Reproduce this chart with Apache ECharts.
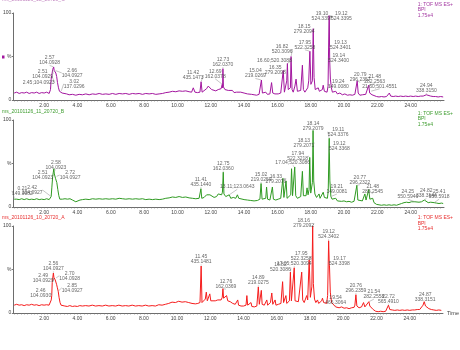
<!DOCTYPE html>
<html><head><meta charset="utf-8">
<script src="https://cdn.jsdelivr.net/npm/echarts@6/dist/echarts.min.js"></script>
<style>html,body{margin:0;padding:0;background:#fff}#c{width:460px;height:350px}</style>
</head><body><div id="c"></div>
<script>
// Retention-time tick labels (minutes)
const timeTicks = [2, 4, 6, 8, 10, 12, 14, 16, 18, 20, 22, 24];

// Sample names
const titleC = 'ms_20101126_12_20720_C';
const titleB = 'ms_20101126_11_20720_B';
const titleA = 'ms_20101126_10_20720_A';
const headerText = '1: TOF MS ES+\nBPI\n1.75e4';

// Base peak intensity traces, [time (min), relative intensity %]
const bpiC = [[0.20,8],[0.35,9],[0.5,7.5],[0.65,8.5],[0.8,8],[0.95,9],[1.1,7.5],[1.25,8.5],[1.4,8],[1.55,9],[1.7,7.5],[1.85,8.5],[2.0,8],[2.15,9],[2.3,7.5],[2.38,12],[2.42,24],[2.45,28],[2.48,31],[2.51,35],[2.54,33],[2.57,38],[2.60,34],[2.63,36],[2.66,34],[2.70,31],[2.75,27],[2.80,20],[2.86,14],[2.92,10],[2.97,9],[3.02,10],[3.08,8],[3.2,6.5],[3.35,7],[3.5,6],[3.7,6.5],[3.9,5.5],[4.1,6.5],[4.3,6],[4.5,7],[4.7,6],[4.9,7],[5.1,6.5],[5.3,7.5],[5.5,6.5],[5.7,7],[5.9,6.5],[6.1,7.5],[6.3,6.5],[6.5,7.5],[6.7,7],[6.9,7.5],[7.1,6.5],[7.3,7.5],[7.5,7],[7.7,7.5],[7.9,6.5],[8.1,7.5],[8.3,7],[8.5,7.5],[8.7,6.5],[8.9,7],[9.1,7.5],[9.3,8.5],[9.5,9],[9.7,10],[9.9,9.5],[10.1,10.5],[10.3,10],[10.5,10.5],[10.7,9.5],[10.85,9],[10.95,14],[11.05,9],[11.2,8.5],[11.35,9],[11.42,21],[11.48,9],[11.6,10],[11.75,13],[11.85,16],[11.95,14],[12.05,12],[12.15,10],[12.3,10.5],[12.45,12],[12.55,14],[12.62,13],[12.69,18],[12.71,14],[12.73,36],[12.76,15],[12.85,12],[12.95,10],[13.05,11],[13.15,9],[13.3,11],[13.4,8.5],[13.55,9],[13.65,8],[13.8,9],[14.0,8],[14.2,7],[14.3,9],[14.45,6.5],[14.6,6],[14.75,5.5],[14.9,6.5],[14.98,8],[15.04,23],[15.10,8],[15.2,7],[15.3,9],[15.4,6.5],[15.55,7],[15.65,20],[15.72,8],[15.85,7],[15.95,9],[16.05,7],[16.2,8],[16.3,10],[16.35,34],[16.42,9],[16.5,10],[16.56,22],[16.60,42],[16.65,12],[16.72,10],[16.78,14],[16.82,50],[16.88,12],[16.95,9],[17.05,16],[17.12,24],[17.2,10],[17.3,9],[17.4,11],[17.5,40],[17.56,12],[17.65,9],[17.75,10],[17.82,14],[17.88,22],[17.95,56],[18.01,18],[18.06,16],[18.10,22],[18.15,82],[18.20,26],[18.27,12],[18.35,10],[18.45,14],[18.52,10],[18.62,9],[18.7,12],[18.75,17],[18.82,10],[18.9,8],[18.98,9],[19.04,16],[19.10,97],[19.12,92],[19.13,60],[19.14,45],[19.18,24],[19.24,14],[19.3,9],[19.4,8],[19.5,10],[19.6,7],[19.75,8],[19.9,6],[20.05,7],[20.2,5.5],[20.35,6],[20.5,5.5],[20.65,6.5],[20.72,8],[20.79,22],[20.85,8],[20.95,5.5],[21.1,6],[21.2,8],[21.3,6.5],[21.4,7],[21.48,17],[21.54,8],[21.60,10],[21.68,6],[21.8,4.5],[21.95,4],[22.1,3.5],[22.25,4],[22.4,3.5],[22.55,4],[22.65,5],[22.72,8],[22.8,4.5],[22.95,4],[23.1,4.5],[23.25,4],[23.4,4.5],[23.55,4],[23.7,4.5],[23.85,4],[24.0,4.5],[24.15,4],[24.3,4.5],[24.45,4],[24.6,4.5],[24.75,4.5],[24.85,5.5],[24.94,6],[25.05,5],[25.2,4.5],[25.35,4],[25.5,4],[25.65,3.5],[25.8,4],[25.95,3.5]];

const bpiB = [[0.20,9],[0.21,10],[0.35,9],[0.5,8.5],[0.65,9.5],[0.8,8.5],[0.95,9.5],[1.1,8.5],[1.25,9],[1.4,8.5],[1.55,9.5],[1.7,8.5],[1.85,9],[2.0,8.5],[2.15,9.5],[2.3,8.5],[2.38,10],[2.42,12],[2.46,22],[2.51,35],[2.55,40],[2.58,44],[2.61,38],[2.65,36],[2.68,33],[2.72,35],[2.76,28],[2.82,20],[2.88,13],[2.94,9],[3.0,8],[3.1,9],[3.25,9.5],[3.4,9],[3.55,9.5],[3.7,8],[3.8,6.5],[3.9,6],[4.0,7],[4.15,8],[4.3,8.5],[4.5,9],[4.7,8.5],[4.9,9.5],[5.1,9],[5.3,9.5],[5.5,9],[5.7,9.5],[5.9,9],[6.1,9.5],[6.3,9],[6.5,10],[6.7,9.5],[6.9,9],[7.1,9.5],[7.3,9],[7.5,9.5],[7.7,9],[7.9,9.5],[8.1,8.5],[8.3,9],[8.5,8.5],[8.7,9],[8.9,8.5],[9.1,9],[9.3,10],[9.5,10.5],[9.7,11.5],[9.9,11],[10.1,12],[10.3,11],[10.5,11.5],[10.7,10.5],[10.9,10],[11.1,9.5],[11.3,10],[11.36,11],[11.41,21],[11.46,10],[11.6,11],[11.75,14],[11.85,16],[11.95,14],[12.05,12],[12.2,11],[12.35,12],[12.45,15],[12.55,16],[12.65,14],[12.70,17],[12.75,40],[12.79,15],[12.9,12],[13.0,11],[13.11,14],[13.2,10],[13.35,11],[13.5,10],[13.6,14],[13.68,10],[13.8,9],[14.0,8.5],[14.2,8],[14.4,7.5],[14.6,7],[14.8,7.5],[14.95,9],[15.02,27],[15.08,9],[15.2,8],[15.3,10],[15.35,23],[15.41,9],[15.55,8],[15.65,10],[15.70,23],[15.76,9],[15.9,8],[16.05,9],[16.2,10],[16.28,12],[16.33,33],[16.39,11],[16.46,12],[16.52,30],[16.58,10],[16.7,11],[16.8,14],[16.85,44],[16.91,13],[16.98,12],[17.04,46],[17.1,13],[17.2,10],[17.3,11],[17.4,12],[17.5,41],[17.56,13],[17.65,11],[17.72,13],[17.78,22],[17.84,14],[17.9,20],[17.94,57],[18.0,16],[18.06,18],[18.10,28],[18.13,71],[18.14,88],[18.18,30],[18.25,15],[18.35,11],[18.45,13],[18.5,15],[18.56,10],[18.65,11],[18.75,17],[18.82,11],[18.92,9],[19.0,10],[19.05,18],[19.11,79],[19.12,62],[19.15,30],[19.21,12],[19.28,9],[19.4,8],[19.5,10],[19.6,7],[19.7,8],[19.85,6.5],[20.0,7],[20.15,6],[20.3,6.5],[20.45,5.5],[20.6,6.5],[20.7,8],[20.77,25],[20.83,8],[20.95,6],[21.1,7],[21.25,15],[21.32,8],[21.4,9],[21.48,20],[21.55,9],[21.65,7],[21.72,10],[21.8,5],[21.95,3],[22.1,2.5],[22.25,2],[22.4,2.5],[22.55,2],[22.7,2.5],[22.85,2],[23.0,2.5],[23.15,2],[23.3,3],[23.45,4],[23.6,5],[23.75,5.5],[23.9,5],[24.05,6],[24.15,5.5],[24.25,6],[24.35,5],[24.5,5.5],[24.65,6],[24.75,7],[24.82,8],[24.9,6],[25.05,5],[25.2,5.5],[25.3,4.5],[25.41,5],[25.55,4.5],[25.7,4],[25.85,4.5],[25.95,4]];

const bpiA = [[0.20,9],[0.35,10],[0.5,9],[0.65,9.5],[0.8,8.5],[0.95,9.5],[1.1,9],[1.25,10],[1.4,9],[1.55,9.5],[1.7,8.5],[1.85,9.5],[2.0,9],[2.15,9.5],[2.3,9],[2.38,10],[2.43,15],[2.46,20],[2.49,35],[2.52,40],[2.56,46],[2.59,41],[2.63,43],[2.67,38],[2.70,40],[2.75,33],[2.80,29],[2.85,25],[2.90,18],[2.96,12],[3.02,9],[3.1,7.5],[3.25,8],[3.4,7.5],[3.55,8.5],[3.7,7.5],[3.85,8],[4.0,7.5],[4.15,8.5],[4.3,8],[4.5,8.5],[4.7,8],[4.9,9],[5.1,8],[5.3,8.5],[5.5,8],[5.7,9],[5.9,8],[6.1,8.5],[6.3,8],[6.5,9],[6.7,8],[6.9,8.5],[7.1,8],[7.3,9],[7.5,8],[7.7,8.5],[7.9,8],[8.1,9],[8.3,8],[8.5,8.5],[8.7,8],[8.9,9.5],[9.1,9],[9.3,10],[9.5,11],[9.7,12.5],[9.9,12],[10.1,13.5],[10.3,12.5],[10.5,13],[10.7,12],[10.9,11],[11.1,10.5],[11.25,11],[11.38,12],[11.45,54],[11.5,12],[11.6,11],[11.7,16],[11.76,24],[11.82,14],[11.9,13],[11.97,22],[12.03,14],[12.15,13],[12.3,14],[12.45,15],[12.55,16],[12.65,15],[12.72,18],[12.76,28],[12.8,17],[12.9,15],[12.98,20],[13.05,14],[13.2,13],[13.35,11],[13.5,10],[13.6,9],[13.65,15],[13.7,9],[13.85,8],[14.0,8],[14.15,9],[14.2,20],[14.25,9],[14.35,8],[14.45,12],[14.5,7.5],[14.65,7],[14.8,8],[14.89,30],[14.95,10],[15.02,12],[15.07,26],[15.12,10],[15.25,9],[15.35,11],[15.4,15],[15.45,9],[15.55,10],[15.62,12],[15.7,23],[15.76,10],[15.85,12],[15.9,15],[15.95,9],[16.1,10],[16.25,11],[16.30,13],[16.35,36],[16.41,12],[16.5,13],[16.55,20],[16.6,11],[16.7,12],[16.76,14],[16.82,47],[16.88,14],[16.96,13],[17.05,52],[17.1,14],[17.2,12],[17.3,13],[17.4,14],[17.5,47],[17.56,15],[17.65,12],[17.72,14],[17.8,20],[17.86,15],[17.95,61],[18.02,18],[18.08,20],[18.11,30],[18.16,100],[18.2,34],[18.27,16],[18.35,12],[18.45,15],[18.52,11],[18.62,12],[18.7,14],[18.75,17],[18.82,12],[18.92,10],[19.0,11],[19.06,20],[19.12,83],[19.15,62],[19.17,55],[19.22,24],[19.3,12],[19.4,10],[19.54,7],[19.65,8],[19.75,6],[19.9,7],[20.05,5.5],[20.2,6],[20.35,5],[20.5,6],[20.65,6.5],[20.7,9],[20.76,21],[20.82,8],[20.95,6],[21.1,7],[21.22,12],[21.3,7],[21.42,8],[21.54,13],[21.6,8],[21.7,8.5],[21.8,4],[21.95,2],[22.1,1.5],[22.25,2],[22.4,1.5],[22.55,2],[22.65,4],[22.72,9],[22.8,4],[22.95,3.5],[23.1,3],[23.25,3.5],[23.4,3],[23.55,3.5],[23.7,3],[23.85,3.5],[24.0,3],[24.15,3.5],[24.3,3.5],[24.45,4],[24.6,4],[24.7,6],[24.8,9],[24.87,13],[24.95,8],[25.05,6],[25.15,5],[25.3,4],[25.45,3.5],[25.6,3],[25.75,3.5],[25.9,3]];

// Annotated peaks: [retention time, m/z, separator]
const peaksC = [[2.45,'104.0923',';'],[2.51,'104.0929','\n'],[2.57,'104.0928','\n'],[2.66,'104.0927','\n'],[3.02,'137.0296','\n'],[11.42,'435.1473','\n'],[12.69,'162.0378','\n'],[12.73,'162.0370','\n'],[15.04,'219.0269','\n'],[16.35,'279.2098','\n'],[16.60,'520.3088',';'],[16.82,'520.3096','\n'],[17.95,'522.3258','\n'],[18.15,'279.2094','\n'],[19.10,'524.3397','\n'],[19.12,'524.3395','\n'],[19.13,'524.3401','\n'],[19.14,'524.3400','\n'],[19.24,'149.0080','\n'],[20.79,'296.2357','\n'],[21.48,'282.2563','\n'],[21.60,'501.4551',';'],[24.94,'338.3150','\n']];
const peaksB = [[0.21,'149.0082','\n'],[2.42,'104.0927','\n'],[2.51,'104.0923','\n'],[2.58,'104.0923','\n'],[2.72,'104.0927','\n'],[11.41,'435.1440','\n'],[12.75,'162.0360','\n'],[13.11,'123.0643',';'],[15.02,'219.0259','\n'],[16.33,'279.2076','\n'],[17.04,'520.3086',';'],[17.94,'522.3218','\n'],[18.13,'279.2071','\n'],[18.14,'279.2079','\n'],[19.11,'524.3376','\n'],[19.12,'524.3368','\n'],[19.21,'149.0081','\n'],[20.77,'296.2322','\n'],[21.48,'282.2545','\n'],[24.25,'550.5946','\n'],[24.82,'338.3144','\n'],[25.41,'550.5918','\n']];
const peaksA = [[2.46,'104.0930','\n'],[2.49,'104.0929','\n'],[2.56,'104.0927','\n'],[2.70,'104.0928','\n'],[2.85,'104.0927','\n'],[11.45,'435.1481','\n'],[12.76,'162.0369','\n'],[14.89,'219.0275','\n'],[16.82,'520.3086','\n'],[17.05,'520.3094',';'],[17.95,'522.3258','\n'],[18.16,'279.2092','\n'],[19.12,'524.3402','\n'],[19.17,'524.3398','\n'],[19.54,'466.3064','\n'],[20.76,'296.2359','\n'],[21.54,'282.2558','\n'],[22.72,'565.4910','\n'],[24.87,'338.3151','\n']];

// Label nudges in pixels (dx, dy) so crowded annotations sit beside their peaks
const shiftC = {'2.57':[-4,0],'2.51':[-10,11],'2.66':[17,9],'2.45':[-13,11],'3.02':[13,-1],'11.42':[-8,0],'12.69':[-7,-4],'15.04':[-6,0],'16.35':[-8,6],'16.60':[-13,1],'16.82':[-9,-1],'17.95':[-5,0],'18.15':[-9,7],'19.10':[-7,7],'19.12':[12,3],'19.13':[11,4],'19.14':[9,4],'19.24':[7,3],'20.79':[3,3],'21.48':[6,0],'21.60':[9,-1]};
const shiftB = {'0.21':[8,-1],'2.42':[-19,0],'2.51':[-10,5],'2.58':[2,3],'2.72':[14,5],'13.11':[8,-4],'16.33':[-7,7],'17.04':[-2,0],'17.94':[-12,5],'18.13':[-9,4],'18.14':[0,2],'19.11':[9,0],'19.12':[10,0],'19.21':[6,-1],'20.77':[3,1],'21.48':[4,6],'24.25':[-7,-1],'24.82':[2,0],'25.41':[5,-2]};
const shiftA = {'2.49':[-9,2],'2.70':[14,4],'2.85':[14,3],'2.46':[-11,4],'12.76':[3,2],'16.82':[-10,2],'17.95':[-8,3],'18.16':[-9,4],'19.17':[10,2],'21.54':[5,-1],'24.87':[1,2]};

const FONT = 'Liberation Sans, Arial, sans-serif';
const purple = '#a3169f', green = '#2f9a22', red = '#f51c1c';

const minorTicks = [];
for (let k = 1; k <= 129; k++) minorTicks.push(+(k * 0.2).toFixed(2));

const gridTops = [13, 120, 226];

function valueAt(trace, t) {
  const p = trace.find(d => Math.abs(d[0] - t) < 1e-9);
  return p ? p[1] : 0;
}

function xAxis(i) {
  return {
    type: 'value', gridIndex: i, min: 0.15, max: 26,
    axisLine: {lineStyle: {color: '#6d6d6d', width: 1}},
    axisTick: {show: true, customValues: minorTicks, length: 1.5, lineStyle: {color: '#777', width: 0.6}},
    axisLabel: {customValues: timeTicks, formatter: v => v.toFixed(2), fontSize: 5, color: '#444', margin: 3, fontFamily: FONT},
    splitLine: {show: false},
    name: i === 2 ? 'Time' : '', nameLocation: 'end', nameGap: 4,
    nameTextStyle: {fontSize: 5.5, color: '#444', fontFamily: FONT, verticalAlign: 'middle'}
  };
}
function yAxis(i) {
  return {
    type: 'value', gridIndex: i, min: 0, max: 100, interval: 50,
    axisLine: {show: true, lineStyle: {color: '#6d6d6d', width: 1}},
    axisTick: {show: true, length: 1.5, lineStyle: {color: '#777'}},
    axisLabel: {formatter: v => v === 50 ? '%' : String(v), fontSize: 5, color: '#444', margin: 2, fontFamily: FONT},
    splitLine: {show: false}
  };
}

function panelSeries(i, trace, peaks, color, shift) {
  return [
    {type: 'line', xAxisIndex: i, yAxisIndex: i, data: trace, symbol: 'none', showSymbol: false,
     lineStyle: {width: 1, color: color}, silent: true, z: 2},
    {type: 'scatter', xAxisIndex: i, yAxisIndex: i, symbolSize: 1, z: 3,
     itemStyle: {color: 'rgba(0,0,0,0)'},
     data: peaks.map(p => ({value: [p[0], valueAt(trace, p[0])], name: p[0].toFixed(2) + p[2] + p[1]})),
     label: {show: true, position: 'top', distance: 1, formatter: q => q.name,
             fontSize: 5, lineHeight: 5, color: '#3d3d3d', fontFamily: FONT},
     labelLine: {show: true, lineStyle: {color: '#8a8a8a', width: 0.5}},
     labelLayout: q => {
       const s = shift[peaks[q.dataIndex][0].toFixed(2)];
       return s ? {dx: s[0], dy: s[1]} : {};
     }}
  ];
}

const chart = echarts.init(document.getElementById('c'), null, {renderer: 'canvas'});
chart.setOption({
  animation: false,
  backgroundColor: '#fff',
  grid: gridTops.map(t => ({left: 13, top: t, width: 431, height: 87, containLabel: false})),
  xAxis: [0, 1, 2].map(xAxis),
  yAxis: [0, 1, 2].map(yAxis),
  series: [].concat(
    panelSeries(0, bpiC, peaksC, purple, shiftC),
    panelSeries(1, bpiB, peaksB, green, shiftB),
    panelSeries(2, bpiA, peaksA, red, shiftA)
  ),
  graphic: [
    {type: 'text', left: 2, top: -3, style: {text: titleC, fill: '#c58ac3', font: '5px ' + FONT}},
    {type: 'rect', left: 2, top: 55.5, shape: {width: 2.5, height: 3}, style: {fill: purple}},
    {type: 'text', left: 2, top: 109.5, style: {text: titleB, fill: '#3f9d30', font: '5px ' + FONT}},
    {type: 'text', left: 2, top: 215.5, style: {text: titleA, fill: '#e83030', font: '5px ' + FONT}},
    {type: 'text', right: 7, top: 1.5, style: {text: headerText, align: 'right', lineHeight: 5.5, fill: '#a43aa2', font: '5px ' + FONT}},
    {type: 'text', right: 7, top: 110.5, style: {text: headerText, align: 'right', lineHeight: 5.5, fill: '#3f9d30', font: '5px ' + FONT}},
    {type: 'text', right: 7, top: 215, style: {text: headerText, align: 'right', lineHeight: 5.5, fill: '#e83030', font: '5px ' + FONT}}
  ]
});
</script></body></html>
